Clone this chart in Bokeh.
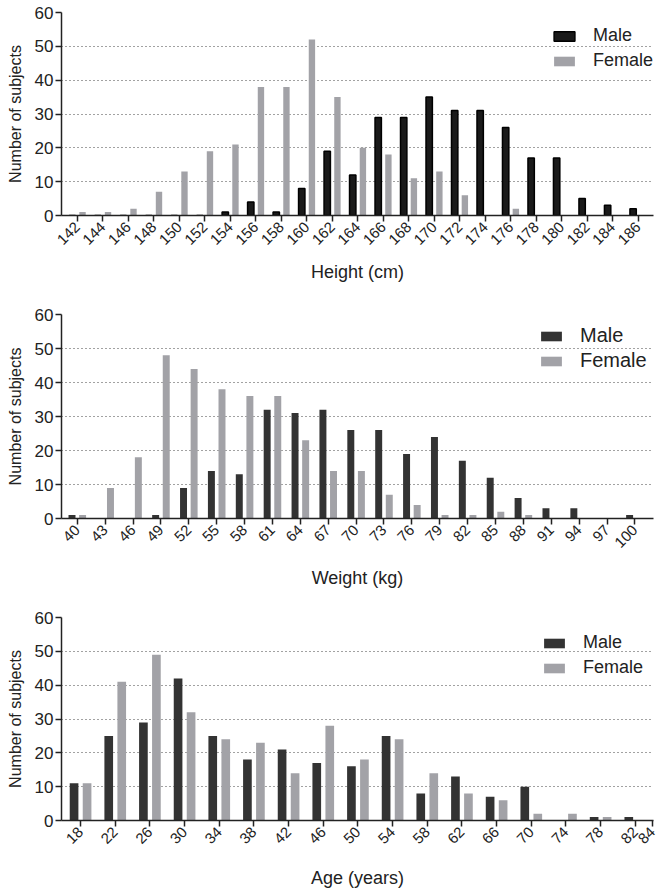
from math import pi
from bokeh.plotting import figure
from bokeh.layouts import column
from bokeh.models import FixedTicker, Legend, LegendItem, Range1d
from bokeh.embed import file_html
from bokeh.resources import INLINE

# ---- Data ----
height_cm = [142, 144, 146, 148, 150, 152, 154, 156, 158, 160, 162, 164,
             166, 168, 170, 172, 174, 176, 178, 180, 182, 184, 186]
height_male = [0, 0, 0, 0, 0, 0, 1, 4, 1, 8, 19, 12,
               29, 29, 35, 31, 31, 26, 17, 17, 5, 3, 2]
height_female = [1, 1, 2, 7, 13, 19, 21, 38, 38, 52, 35, 20,
                 18, 11, 13, 6, 0, 2, 0, 0, 0, 0, 0]

weight_kg = [40, 43, 46, 49, 52, 55, 58, 61, 64, 67, 70, 73, 76, 79, 82,
             85, 88, 91, 94, 97, 100]
weight_male = [1, 0, 0, 1, 9, 14, 13, 32, 31, 32, 26, 26, 19, 24, 17,
               12, 6, 3, 3, 0, 1]
weight_female = [1, 9, 18, 48, 44, 38, 36, 36, 23, 14, 14, 7, 4, 1, 1,
                 2, 1, 0, 0, 0, 0]

age_years = [18, 22, 26, 30, 34, 38, 42, 46, 50, 54, 58, 62, 66, 70, 74, 78, 82]
age_male = [11, 25, 29, 42, 25, 18, 21, 17, 16, 25, 8, 13, 7, 10, 0, 1, 1]
age_female = [11, 41, 49, 32, 24, 23, 14, 28, 18, 24, 14, 8, 6, 2, 2, 1, 0]
age_ticks = age_years + [84]

y_ticks = [0, 10, 20, 30, 40, 50, 60]
grid_ticks = [10, 20, 30, 40, 50]

FONT = "Liberation Sans"
FEMALE = "#a2a2a7"


def panel(xs, male, female, ticks, xr, off, bw, xlabel, male_fill, male_line,
          top, fh, bottom, legend_xy, legend_font, legend_spacing, xlabel_standoff):
    p = figure(output_backend="svg", toolbar_location=None,
               frame_width=592, frame_height=fh,
               min_border_left=61, min_border_right=12,
               min_border_top=top, min_border_bottom=bottom,
               x_range=Range1d(*xr), y_range=Range1d(0, 60))
    p.outline_line_color = None
    p.background_fill_color = None
    p.border_fill_color = None

    xm = [x - off for x in xs]
    xf = [x + off for x in xs]
    rm = p.vbar(x=xm, top=male, bottom=0, width=bw, fill_color=male_fill,
                line_color=male_line, line_width=1.5 if male_line else 0)
    rf = p.vbar(x=xf, top=female, bottom=0, width=bw, fill_color=FEMALE,
                line_color=None)

    p.xgrid.visible = False
    p.ygrid.ticker = FixedTicker(ticks=grid_ticks)
    p.ygrid.grid_line_color = "#444444"
    p.ygrid.grid_line_dash = "1 3"
    p.ygrid.grid_line_width = 1.2

    for ax in (p.xaxis[0], p.yaxis[0]):
        ax.axis_line_color = "#222222"
        ax.axis_line_width = 1.5
        ax.major_tick_line_color = "#222222"
        ax.major_tick_line_width = 1.5
        ax.major_tick_in = 0
        ax.major_tick_out = 6
        ax.minor_tick_line_color = None
        ax.major_label_text_font = FONT
        ax.major_label_text_color = "#222222"
        ax.axis_label_text_font = FONT
        ax.axis_label_text_font_style = "normal"
        ax.axis_label_text_color = "#222222"

    p.yaxis.ticker = FixedTicker(ticks=y_ticks)
    p.yaxis.major_label_text_font_size = "17px"
    p.yaxis.axis_label = "Number of subjects"
    p.yaxis.axis_label_text_font_size = "16px"
    p.yaxis.axis_label_standoff = 8
    p.yaxis.major_label_standoff = 2

    p.xaxis.ticker = FixedTicker(ticks=ticks)
    p.xaxis.major_label_orientation = pi / 4
    p.xaxis.major_label_text_font_size = "15px"
    p.xaxis.major_label_standoff = 3
    p.xaxis.axis_label = xlabel
    p.xaxis.axis_label_text_font_size = "18px"
    p.xaxis.axis_label_standoff = xlabel_standoff

    leg = Legend(items=[LegendItem(label="Male", renderers=[rm]),
                        LegendItem(label="Female", renderers=[rf])],
                 location=legend_xy)
    leg.background_fill_alpha = 0
    leg.border_line_color = None
    leg.padding = 0
    leg.margin = 0
    leg.spacing = legend_spacing
    leg.glyph_width = 26
    leg.glyph_height = 12
    leg.label_height = 12
    leg.label_standoff = 16
    leg.label_text_font = FONT
    leg.label_text_font_size = legend_font
    leg.label_text_color = "#222222"
    p.add_layout(leg)
    return p


p1 = panel(height_cm, height_male, height_female, height_cm, (140.75, 187.2),
           0.4, 0.5, "Height (cm)", "#1a1a1a", "#000000",
           12, 203, 75, (490, 144), "18px", 4, 10)
p2 = panel(weight_kg, weight_male, weight_female, weight_kg, (38.3, 102.0),
           0.57, 0.75, "Weight (kg)", "#333333", None,
           24, 204, 74, (477, 146), "20px", 2, 13)
p3 = panel(age_years, age_male, age_female, age_ticks, (15.8, 84.1),
           0.75, 1.0, "Age (years)", "#333333", None,
           25, 203, 62, (480, 142), "18px", 4, 17)

layout = column(p1, p2, p3, spacing=0)
open("out.html", "w").write(file_html(layout, INLINE))
